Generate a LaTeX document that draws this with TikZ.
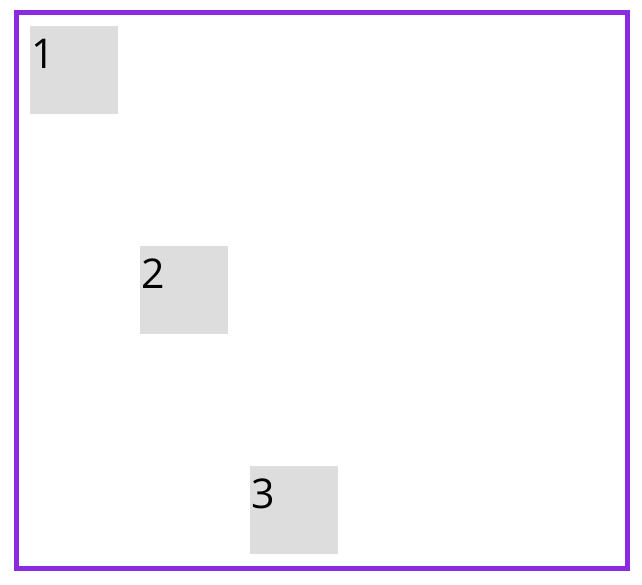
\documentclass[tikz,border=0pt]{standalone}
\usepackage{fontspec}
\setmainfont{Open Sans}
\usetikzlibrary{calc}
\definecolor{frameviolet}{RGB}{138,43,226}
\definecolor{boxgrey}{RGB}{221,221,221}
\begin{document}
\begin{tikzpicture}[x=1pt,y=-1pt,
  frame/.style={draw=frameviolet,line width=4.5pt},
  greybox/.style={fill=boxgrey,draw=none,minimum width=88pt,minimum height=88pt,inner sep=0pt,outer sep=0pt},
  numlabel/.style={font=\fontsize{41}{48}\selectfont,text=black,inner sep=0pt,anchor=base west}]
\useasboundingbox (0,0) rectangle (642,585);
\node[frame,minimum width=611pt,minimum height=556pt,inner sep=0pt] (border) at (322,290.5) {};
\node[greybox] (b1) at (74,70) {};
\node[greybox] (b2) at (184,290) {};
\node[greybox] (b3) at (294,510) {};
\node[numlabel] (t1) at ($(b1.north west)+(1,43)$) {1};
\node[numlabel] (t2) at ($(b2.north west)+(1,42)$) {2};
\node[numlabel] (t3) at ($(b3.north west)+(1,42)$) {3};
\end{tikzpicture}
\end{document}
